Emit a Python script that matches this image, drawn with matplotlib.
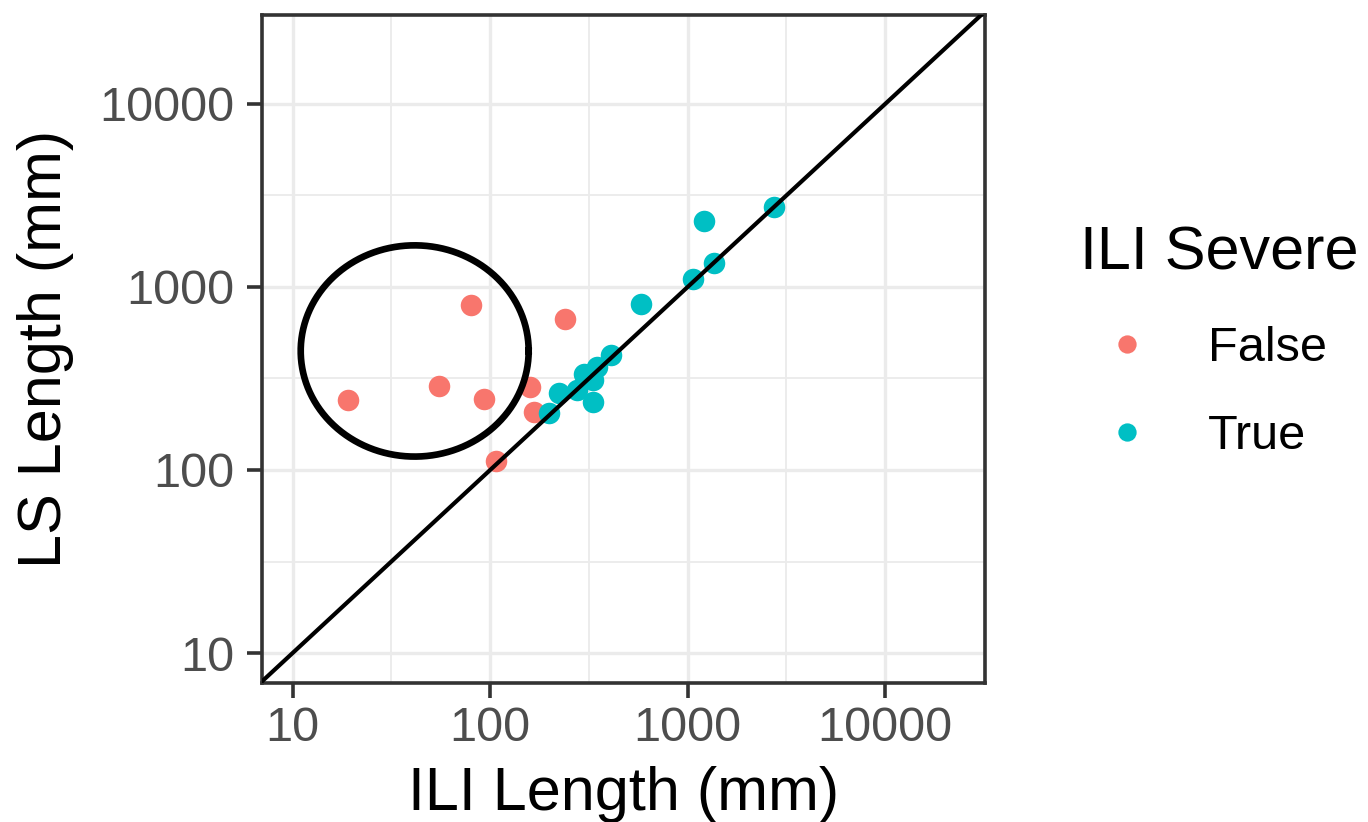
import numpy as np
import matplotlib.pyplot as plt
from matplotlib.ticker import FixedLocator, NullFormatter

plt.rcParams['font.family'] = ['Liberation Sans', 'DejaVu Sans']

# ILI vs LS lengths (mm)
false_ili = [80, 240, 19, 55, 93, 160, 167, 107]
false_ls = [800, 670, 240, 288, 245, 283, 208, 112]
true_ili = [1205, 2750, 1360, 1065, 580, 410, 346, 297, 274, 222, 332, 198, 330]
true_ls = [2300, 2730, 1360, 1105, 805, 425, 365, 335, 274, 265, 236, 205, 310]

major_ticks = [10, 100, 1000, 10000]
minor_ticks = [10 ** 0.5, 10 ** 1.5, 10 ** 2.5, 10 ** 3.5, 10 ** 4.5]

# highlighted region (circle in log space)
circle_center = (41.5, 447)
circle_radius = 0.577  # decades

fig = plt.figure(figsize=(13.68, 8.22), dpi=100)
ax = fig.add_axes([262 / 1368, 1 - 683 / 822, 723 / 1368, 668 / 822])

ax.set_xscale('log')
ax.set_yscale('log')
ax.set_xlim(7.0, 32000)
ax.set_ylim(6.86, 30600)

# grid like theme_bw
ax.set_axisbelow(True)
for axis in (ax.xaxis, ax.yaxis):
    axis.set_major_locator(FixedLocator(major_ticks))
    axis.set_minor_locator(FixedLocator(minor_ticks))
    axis.set_minor_formatter(NullFormatter())
ax.set_xticklabels([str(t) for t in major_ticks])
ax.set_yticklabels([str(t) for t in major_ticks])
ax.grid(which='major', color='#EBEBEB', linewidth=2.4)
ax.grid(which='minor', color='#EBEBEB', linewidth=1.3)

# y = x reference line
lims = np.array([1, 100000])
ax.plot(lims, lims, color='black', linewidth=3.0, zorder=3)

ax.plot(false_ili, false_ls, 'o', color='#F8766D', markersize=15.5,
        markeredgewidth=0, label='False', zorder=2)
ax.plot(true_ili, true_ls, 'o', color='#00BFC4', markersize=15.5,
        markeredgewidth=0, label='True', zorder=2)

t = np.linspace(0, 2 * np.pi, 400)
cx = 10 ** (np.log10(circle_center[0]) + circle_radius * np.cos(t))
cy = 10 ** (np.log10(circle_center[1]) + circle_radius * np.sin(t))
ax.plot(cx, cy, color='black', linewidth=4.8, zorder=4)

for s in ax.spines.values():
    s.set_color('#333333')
    s.set_linewidth(2.6)
ax.tick_params(which='major', length=11, width=2.6, color='#333333',
               labelsize=35, labelcolor='#4D4D4D')
ax.tick_params(axis='x', which='major', pad=5.5)
ax.tick_params(axis='y', which='major', pad=9)
ax.tick_params(which='minor', length=0)

ax.set_xlabel('ILI Length (mm)', fontsize=44, labelpad=11)
ax.set_ylabel('LS Length (mm)', fontsize=44, labelpad=18)

leg = ax.legend(title='ILI Severe', loc='upper left',
                bbox_to_anchor=(0.7578, 0.7786), bbox_transform=fig.transFigure,
                fontsize=35, title_fontsize=44, frameon=False,
                handlelength=1.93, handletextpad=0.7, labelspacing=0.89,
                borderpad=0.4, alignment='left', markerscale=0.85)

fig.savefig('out.png', dpi=100)
